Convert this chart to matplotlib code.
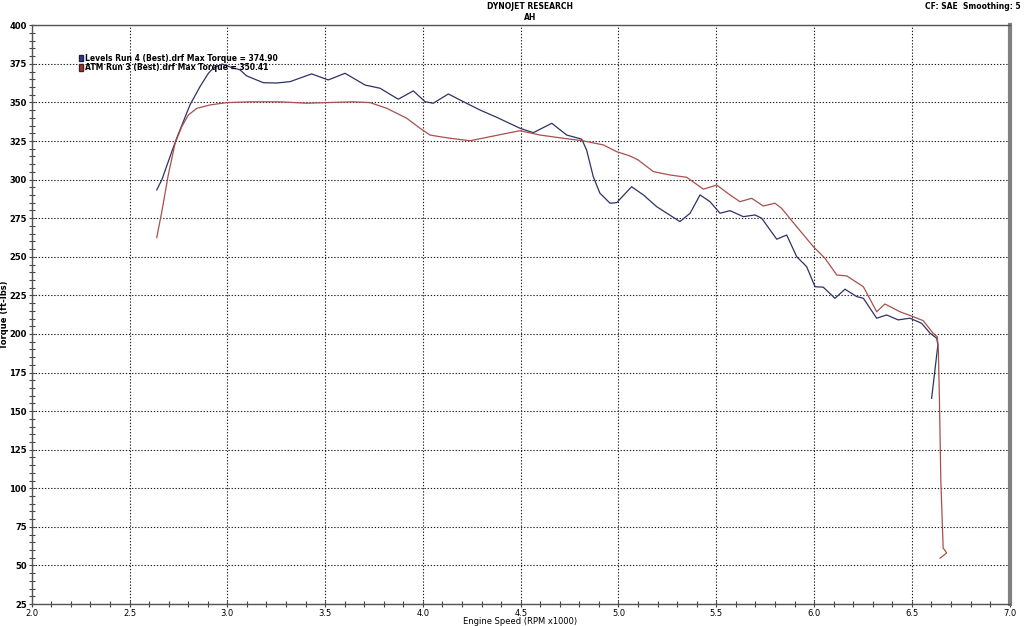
"""
Dynojet torque chart: Levels run vs ATM run.
"""

import matplotlib
matplotlib.use('Agg')
import matplotlib.pyplot as plt
from matplotlib.patches import Patch
from matplotlib.ticker import MultipleLocator, FormatStrFormatter

# Levels Run 4 (blue)
levels_rpm = [2.639, 2.665, 2.707, 2.741, 2.775, 2.809, 2.860, 2.903, 2.928, 2.973,
              3.014, 3.065, 3.099, 3.184, 3.253, 3.321, 3.431, 3.516, 3.602, 3.704,
              3.781, 3.874, 3.951, 4.011, 4.053, 4.130, 4.207, 4.292, 4.377, 4.496,
              4.564, 4.659, 4.735, 4.812, 4.837, 4.871, 4.905, 4.957, 4.991, 5.067,
              5.127, 5.195, 5.314, 5.366, 5.417, 5.468, 5.519, 5.570, 5.638, 5.698,
              5.732, 5.809, 5.860, 5.911, 5.962, 6.005, 6.047, 6.107, 6.158, 6.218,
              6.252, 6.320, 6.371, 6.430, 6.490, 6.550, 6.593, 6.627, 6.633, 6.618,
              6.601]
levels_tq = [293.3, 299.8, 314.9, 326.8, 337.6, 348.4, 360.2, 368.9, 372.2, 374.9,
             373.0, 371.1, 367.2, 362.8, 362.6, 363.5, 368.5, 364.6, 368.9, 361.3,
             359.2, 352.1, 357.5, 350.5, 349.5, 355.5, 350.5, 345.1, 340.4, 333.3,
             330.4, 336.5, 328.9, 326.2, 319.2, 301.9, 291.2, 284.7, 285.1, 295.4,
             290.1, 282.5, 272.8, 278.2, 290.1, 285.7, 278.2, 279.9, 276.0, 277.1,
             275.0, 261.4, 264.1, 250.1, 243.6, 230.6, 230.3, 223.1, 229.0, 224.2,
             223.1, 210.2, 212.3, 209.1, 210.2, 206.9, 200.5, 197.2, 192.9, 176.7,
             158.3]

# ATM Run 3 (red)
atm_rpm = [2.639, 2.665, 2.698, 2.733, 2.767, 2.801, 2.844, 2.912, 2.997, 3.116,
           3.269, 3.406, 3.508, 3.644, 3.730, 3.815, 3.917, 3.985, 4.036, 4.087,
           4.139, 4.241, 4.343, 4.496, 4.598, 4.718, 4.820, 4.922, 4.991, 5.059,
           5.101, 5.178, 5.263, 5.349, 5.434, 5.502, 5.570, 5.621, 5.681, 5.740,
           5.800, 5.834, 5.911, 5.996, 6.056, 6.116, 6.167, 6.252, 6.320, 6.362,
           6.439, 6.507, 6.558, 6.609, 6.630, 6.635, 6.641, 6.648, 6.660, 6.678,
           6.644]
atm_tq = [262.4, 279.2, 303.0, 323.6, 334.3, 341.9, 346.2, 348.4, 349.9, 350.4,
          350.4, 349.5, 349.9, 350.4, 349.9, 346.2, 339.8, 333.3, 328.9, 327.8,
          326.8, 325.2, 327.8, 331.7, 328.9, 326.8, 325.1, 322.5, 318.1, 315.3,
          312.7, 305.2, 303.0, 301.5, 293.8, 296.5, 290.1, 285.7, 287.9, 282.9,
          284.7, 281.4, 269.5, 256.6, 249.0, 238.2, 237.6, 230.6, 214.4, 219.4,
          214.4, 211.2, 208.6, 200.4, 198.2, 190.7, 157.2, 105.4, 61.3, 58.1,
          54.7]

levels_label = 'Levels Run 4 (Best).drf Max Torque = 374.90'
atm_label = 'ATM Run 3 (Best).drf Max Torque = 350.41'

blue = '#2e3266'
red = '#a8504c'

fig = plt.figure(figsize=(10.24, 6.26), dpi=100)
ax = fig.add_axes([0.031, 0.0351, 0.955, 0.9245])

ax.plot(levels_rpm, levels_tq, color=blue, lw=0.9)
ax.plot(atm_rpm, atm_tq, color=red, lw=0.9)

ax.set_xlim(2.0, 7.0)
ax.set_ylim(25, 400)
ax.xaxis.set_major_locator(MultipleLocator(0.5))
ax.xaxis.set_minor_locator(MultipleLocator(0.1))
ax.yaxis.set_major_locator(MultipleLocator(25))
ax.yaxis.set_minor_locator(MultipleLocator(5))
ax.xaxis.set_major_formatter(FormatStrFormatter('%.1f'))

ax.grid(True, which='major', color='#222222', linestyle=(0, (1.2, 1.6)), lw=0.8)
ax.tick_params(which='both', direction='inout', color='#444444', width=0.8)
ax.tick_params(which='major', length=5, pad=1, labelsize=6)
ax.tick_params(which='minor', length=4)
for lab in ax.get_yticklabels():
    lab.set_fontweight('bold')

for side in ['left', 'bottom', 'top']:
    ax.spines[side].set_color('#555555')
    ax.spines[side].set_linewidth(1.0)
ax.spines['right'].set_color('#808080')
ax.spines['right'].set_linewidth(3.0)

# axis titles placed by hand, the chart is very tight at the edges
fig.text(0.508, 0.0, 'Engine Speed (RPM x1000)', ha='center', va='bottom',
         fontsize=6)
fig.text(0.0, 0.497, 'Torque (ft-lbs)', ha='left', va='center', rotation=90,
         fontsize=6, fontweight='bold')

fig.text(0.518, 0.997, 'DYNOJET RESEARCH', ha='center', va='top',
         fontsize=5.5, fontweight='bold')
fig.text(0.518, 0.979, 'AH', ha='center', va='top', fontsize=5.5, fontweight='bold')
fig.text(0.997, 0.997, 'CF: SAE  Smoothing: 5', ha='right', va='top',
         fontsize=5.5, fontweight='bold')

handles = [Patch(facecolor='#2f3f9a', edgecolor='#222244', label=levels_label),
           Patch(facecolor='#b03030', edgecolor='#442222', label=atm_label)]
leg = ax.legend(handles=handles, loc='upper left', bbox_to_anchor=(0.048, 0.951),
                frameon=False, prop={'size': 5.5, 'weight': 'bold'},
                handlelength=0.6, handleheight=0.9, handletextpad=0.2,
                labelspacing=0.05, borderpad=0, borderaxespad=0)

fig.savefig('out.png', dpi=100)
